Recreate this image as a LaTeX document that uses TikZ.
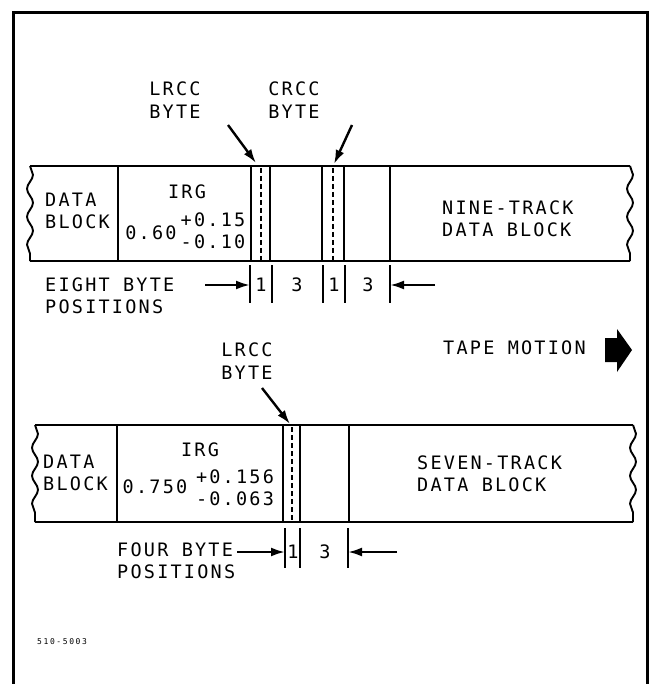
\documentclass[tikz,border=0pt]{standalone}
\usepackage{fontspec}
\newfontfamily\lbl{DejaVu Sans Mono}[LetterSpace=12]
\newfontfamily\lbls{DejaVu Sans Mono}[LetterSpace=20]
\usetikzlibrary{arrows.meta,decorations.pathmorphing}
\begin{document}
\begin{tikzpicture}[x=1pt,y=-1pt,
  txt/.style={font=\lbl\fontsize{18.5}{22.5}\selectfont, inner sep=0pt, align=left},
  ctxt/.style={font=\lbl\fontsize{18.5}{22.5}\selectfont, inner sep=0pt, align=center},
  small/.style={font=\lbls\fontsize{8}{10}\selectfont, inner sep=0pt},
  tape/.style={line width=1.9pt},
  wavy/.style={line width=1.9pt, decorate, decoration={snake, segment length=28pt, amplitude=3pt}},
  dashline/.style={line width=2pt, dash pattern=on 5pt off 3pt},
  tick/.style={line width=1.6pt},
  ptr/.style={line width=2.4pt, -{Latex[length=14pt,width=9pt]}},
  ]
\useasboundingbox (0,0) rectangle (649,684);
% frame
\draw[line width=3pt] (13,684) -- (13,13) -- (647,13) -- (647,684);

% ---------------- nine-track tape ----------------
\draw[tape] (30,166) -- (630,166);
\draw[tape] (30,261) -- (630,261);
\draw[wavy] (30,166) -- (30,261);
\draw[wavy] (630,166) -- (630,261);
\foreach \x in {118,251,270,322,344,390} \draw[tape] (\x,166) -- (\x,261);
\draw[dashline] (260.5,168) -- (260.5,260);
\draw[dashline] (333,168) -- (333,260);

\node[txt, anchor=west] (db1) at (45,211) {DATA\\BLOCK};
\node[ctxt] (irg1) at (187,192) {IRG};
\node[txt] (val1) at (151,233) {0.60};
\node[txt] (tol1) at (213,231) {+0.15\\-0.10};
\node[txt, anchor=west] (nine) at (442,219) {NINE-TRACK\\DATA BLOCK};

\node[ctxt] (lrcc1) at (175,100) {LRCC\\BYTE};
\node[ctxt] (crcc1) at (294,100) {CRCC\\BYTE};
\coordinate (l1s) at (228,125); \coordinate (l1e) at (256,163);
\coordinate (c1s) at (352,125); \coordinate (c1e) at (334,164);
\draw[ptr] (l1s) -- (l1e);
\draw[ptr] (c1s) -- (c1e);

% byte positions (top)
\foreach \x in {250,272,323,345,390} \draw[tick] (\x,265) -- (\x,303);
\node[txt] (b1a) at (261,285) {1};
\node[txt] (b1b) at (297,285) {3};
\node[txt] (b1c) at (334,285) {1};
\node[txt] (b1d) at (368,285) {3};
\node[txt, anchor=west] (eight) at (45,296) {EIGHT BYTE\\POSITIONS};
\coordinate (e1s) at (205,285); \coordinate (e1e) at (250,285);
\coordinate (e2s) at (435,285); \coordinate (e2e) at (390,285);
\draw[ptr] (e1s) -- (e1e);
\draw[ptr] (e2s) -- (e2e);

% tape motion
\node[txt, anchor=west] (motion) at (443,348) {TAPE MOTION};
\fill (605,338) -- (617,338) -- (617,329) -- (632,350) -- (617,372) -- (617,362) -- (605,362) -- cycle;

% ---------------- seven-track tape ----------------
\draw[tape] (35,425) -- (633,425);
\draw[tape] (35,522) -- (633,522);
\draw[wavy] (35,425) -- (35,522);
\draw[wavy] (633,425) -- (633,522);
\foreach \x in {117,283,300,349} \draw[tape] (\x,425) -- (\x,522);
\draw[dashline] (291.5,427) -- (291.5,521);

\node[txt, anchor=west] (db2) at (43,473) {DATA\\BLOCK};
\node[ctxt] (irg2) at (200,450) {IRG};
\node[txt] (val2) at (155,487) {0.750};
\node[txt] (tol2) at (235,488) {+0.156\\-0.063};
\node[txt, anchor=west] (seven) at (417,474) {SEVEN-TRACK\\DATA BLOCK};

\node[ctxt] (lrcc2) at (247,361) {LRCC\\BYTE};
\coordinate (l2s) at (262,388); \coordinate (l2e) at (290,424);
\draw[ptr] (l2s) -- (l2e);

% byte positions (bottom)
\foreach \x in {285,300,348} \draw[tick] (\x,528) -- (\x,568);
\node[txt] (b2a) at (293,552) {1};
\node[txt] (b2b) at (325,552) {3};
\node[txt, anchor=west] (four) at (117,561) {FOUR BYTE\\POSITIONS};
\coordinate (f1s) at (237,552); \coordinate (f1e) at (285,552);
\coordinate (f2s) at (397,552); \coordinate (f2e) at (348,552);
\draw[ptr] (f1s) -- (f1e);
\draw[ptr] (f2s) -- (f2e);

\node[small, anchor=west] (fig) at (37,642) {510-5003};
\end{tikzpicture}
\end{document}
